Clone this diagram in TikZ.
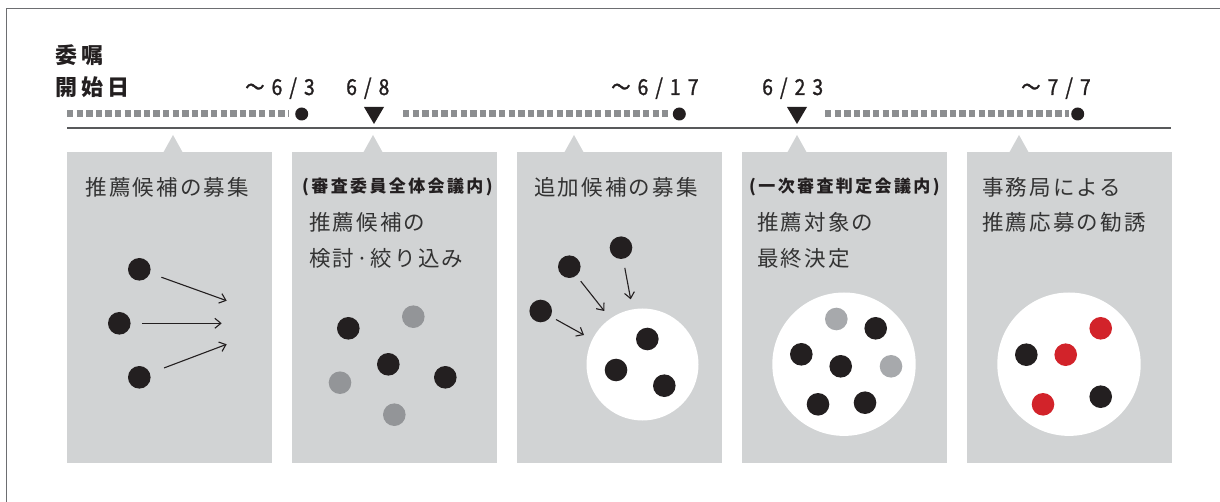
\documentclass[tikz,border=0pt]{standalone}
\usepackage{fontspec}
\setmainfont{Noto Sans CJK JP}
\newfontfamily\jpfont[LetterSpace=10]{Noto Sans CJK JP}
\newfontfamily\titlefont[LetterSpace=20]{Noto Sans CJK JP}
\newfontfamily\headfont[LetterSpace=14]{Noto Sans CJK JP}
\newfontfamily\datefont[LetterSpace=32,FakeStretch=0.88,FakeBold=1.2]{Noto Sans CJK JP}
\usetikzlibrary{arrows.meta}
\definecolor{panelbg}{HTML}{D1D3D4}
\definecolor{ink}{HTML}{231F20}
\definecolor{txt}{HTML}{333333}
\definecolor{midgray}{HTML}{939598}
\definecolor{lightgray}{HTML}{A7A9AC}
\definecolor{dashgray}{HTML}{8C8E90}
\definecolor{redc}{HTML}{D2232A}
\definecolor{linec}{HTML}{58595B}
\definecolor{framec}{HTML}{6D6E71}
\begin{document}
\begin{tikzpicture}[x=1pt,y=-1pt,
  panel/.style={fill=panelbg, draw=none, minimum width=205pt, minimum height=311pt, inner sep=0pt, anchor=north west},
  dot/.style={circle, minimum size=22.6pt, inner sep=0pt, fill=ink},
  gdot/.style={dot, fill=midgray},
  ldot/.style={dot, fill=lightgray},
  rdot/.style={dot, fill=redc},
  pool/.style={circle, fill=white, inner sep=0pt},
  arr/.style={-{Straight Barb[length=6pt,width=10pt]}, line width=1.1pt, draw=ink},
  dashbar/.style={line width=7pt, draw=dashgray, dash pattern=on 6.4pt off 3.2pt},
  enddot/.style={circle, minimum size=13pt, inner sep=0pt, fill=ink},
  body/.style={anchor=base west, inner sep=0pt, text=txt, font=\jpfont\fontsize{21.5}{24}\selectfont},
  head/.style={anchor=base west, inner sep=0pt, text=ink, font=\headfont\bfseries\fontsize{17}{20}\selectfont},
  datel/.style={anchor=base west, inner sep=0pt, text=ink, font=\datefont\fontsize{22}{26}\selectfont},
  titlel/.style={anchor=base west, inner sep=0pt, text=ink, font=\titlefont\bfseries\fontsize{22}{24}\selectfont}
]
\useasboundingbox (0,0) rectangle (1220,502);
% frame
\draw[framec, line width=1pt] (6,502) -- (6,9) -- (1220,9);

% title
\node[titlel] (t1) at (55,63.5) {委嘱};
\node[titlel] (t2) at (55,95.5) {開始日};

% dates
\node[datel] (d1) at (245,95) {～6/3};
\node[datel] (d2) at (346,95) {6/8};
\node[datel] (d3) at (611,95) {～6/17};
\node[datel] (d4) at (762,95) {6/23};
\node[datel] (d5) at (1021,95) {～7/7};

% timeline
\draw[dashbar] (67,114) -- (288,114);
\draw[dashbar] (403,114) -- (668,114);
\draw[dashbar] (825,114) -- (1069,114);
\node[enddot] (e1) at (301.7,114) {};
\node[enddot] (e2) at (679.3,114) {};
\node[enddot] (e3) at (1077.7,114) {};
\fill[ink] (364,107) -- (384,107) -- (374,124) -- cycle;
\fill[ink] (787,107) -- (807,107) -- (797,124) -- cycle;
\draw[linec, line width=1.5pt] (67,128) -- (1171,128);

% panels
\node[panel] (p1) at (67,152) {};
\node[panel] (p2) at (292,152) {};
\node[panel] (p3) at (517,152) {};
\node[panel] (p4) at (742,152) {};
\node[panel] (p5) at (967,152) {};
\fill[panelbg] (163,153) -- (173,135) -- (183,153) -- cycle;
\fill[panelbg] (363,153) -- (373,135) -- (383,153) -- cycle;
\fill[panelbg] (564,153) -- (574,135) -- (584,153) -- cycle;
\fill[panelbg] (787,153) -- (797,135) -- (807,153) -- cycle;
\fill[panelbg] (1009,153) -- (1019,135) -- (1029,153) -- cycle;

% panel texts
\node[body] (x1) at (85.5,195.5) {推薦候補の募集};
\node[head] (h2) at (302,193) {(審査委員全体会議内)};
\node[body] (x2a) at (309,230.5) {推薦候補の};
\node[body] (x2b) at (309,266.5) {検討·絞り込み};
\node[body] (x3) at (534,195.5) {追加候補の募集};
\node[head] (h4) at (749,193) {(一次審査判定会議内)};
\node[body] (x4a) at (757,231) {推薦対象の};
\node[body] (x4b) at (757,266.5) {最終決定};
\node[body] (x5a) at (982,196) {事務局による};
\node[body] (x5b) at (982,230.5) {推薦応募の勧誘};

% panel 1
\node[dot] (a1) at (139.3,269.3) {};
\node[dot] (a2) at (119.3,323.3) {};
\node[dot] (a3) at (139.3,377.3) {};
\coordinate (g1) at (226.7,300.7);
\coordinate (g2) at (221.7,323.3);
\coordinate (g3) at (226.7,344.3);
\draw[arr, shorten <=12pt] (a1) -- (g1);
\draw[arr, shorten <=11pt] (a2) -- (g2);
\draw[arr, shorten <=15pt] (a3) -- (g3);

% panel 2
\node[dot] (q1) at (348.3,328.3) {};
\node[gdot] (q2) at (413.3,316.7) {};
\node[dot] (q3) at (388.3,364.3) {};
\node[gdot] (q4) at (340,382.7) {};
\node[dot] (q5) at (445.3,377.3) {};
\node[gdot] (q6) at (394.3,414.7) {};

% panel 3
\node[pool, minimum size=112pt] (c3) at (642.5,364.5) {};
\node[dot] (b1) at (540.7,311) {};
\node[dot] (b2) at (569.3,266.7) {};
\node[dot] (b3) at (621,247.7) {};
\coordinate (f1) at (584,335);
\coordinate (f2) at (604.3,311);
\coordinate (f3) at (630.7,299.3);
\draw[arr, shorten <=6pt] (b1) -- (f1);
\draw[arr, shorten <=7pt] (b2) -- (f2);
\draw[arr, shorten <=9pt] (b3) -- (f3);
\node[dot] (r1) at (647.3,339) {};
\node[dot] (r2) at (616,370) {};
\node[dot] (r3) at (664.3,385.7) {};

% panel 4
\node[pool, minimum size=143.4pt] (c4) at (844,364.2) {};
\node[ldot] (s1) at (836.3,319) {};
\node[dot] (s2) at (875.7,328.3) {};
\node[dot] (s3) at (801.3,354.3) {};
\node[dot] (s4) at (840.7,366.3) {};
\node[ldot] (s5) at (891,366.3) {};
\node[dot] (s6) at (818,404.3) {};
\node[dot] (s7) at (865,402.7) {};

% panel 5
\node[pool, minimum size=143.4pt] (c5) at (1069,364.2) {};
\node[rdot] (u1) at (1100.7,328.3) {};
\node[dot] (u2) at (1026.3,354.7) {};
\node[rdot] (u3) at (1065.7,354.7) {};
\node[rdot] (u4) at (1043,404.3) {};
\node[dot] (u5) at (1100.7,396.7) {};
\end{tikzpicture}
\end{document}
